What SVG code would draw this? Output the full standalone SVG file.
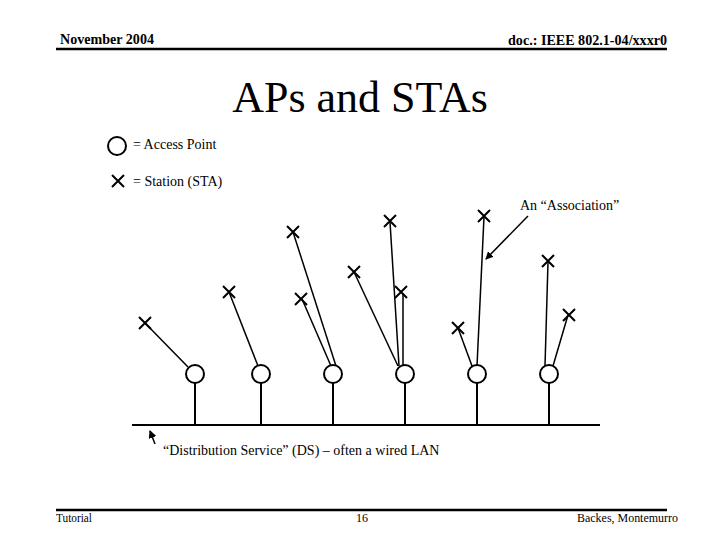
<svg xmlns="http://www.w3.org/2000/svg" width="720" height="540" viewBox="0 0 720 540">
<style>
text{font-family:"Liberation Serif","Times New Roman",serif;fill:#000}
.hdr{font-size:15px;font-weight:bold}
.ftr{font-size:13px}
.lbl{font-size:14px}
.ap{fill:#fff;stroke:#000;stroke-width:2}
.sta{stroke:#000;stroke-width:2;fill:none}
.link{stroke:#000;stroke-width:1.5;fill:none}
.wire{stroke:#000;stroke-width:2;fill:none}
</style>
<defs>
<marker id="ah" markerWidth="8" markerHeight="8" refX="7" refY="4" orient="auto" markerUnits="userSpaceOnUse">
<path d="M0,0 L8,4 L0,8 z" fill="#000"/>
</marker>
<path id="x" d="M-6,-6 L6,6 M6,-6 L-6,6"/>
</defs>
<rect width="720" height="540" fill="#fff"/>
<g id="header">
<text class="hdr" x="60" y="44" textLength="94" lengthAdjust="spacingAndGlyphs">November 2004</text>
<text class="hdr" x="667" y="45" text-anchor="end" textLength="159" lengthAdjust="spacingAndGlyphs">doc.: IEEE 802.1-04/xxxr0</text>
<line x1="56" y1="49" x2="667" y2="49" stroke="#000" stroke-width="2.5"/>
</g>
<text x="360" y="112" font-size="44" text-anchor="middle">APs and STAs</text>
<g id="legend">
<circle class="ap" cx="117" cy="146" r="9"/>
<text class="lbl" x="133" y="149">= Access Point</text>
<use href="#x" class="sta" x="118" y="181"/>
<text class="lbl" x="133" y="186">= Station (STA)</text>
</g>
<g id="connectors">
<line class="wire" x1="132" y1="425" x2="600" y2="425"/>
<line class="wire" x1="195" y1="383" x2="195" y2="425"/>
<line class="wire" x1="261" y1="383" x2="261" y2="425"/>
<line class="wire" x1="333" y1="383" x2="333" y2="425"/>
<line class="wire" x1="405" y1="383" x2="405" y2="425"/>
<line class="wire" x1="477" y1="383" x2="477" y2="425"/>
<line class="wire" x1="549" y1="383" x2="549" y2="425"/>
<line class="link" stroke-width="1" x1="145" y1="323" x2="188" y2="367"/>
<line class="link" x1="229" y1="292" x2="258" y2="366"/>
<line class="link" x1="293" y1="232" x2="336" y2="366"/>
<line class="link" x1="302" y1="299" x2="331" y2="366"/>
<line class="link" x1="354" y1="272" x2="398" y2="366"/>
<line class="link" x1="390" y1="222" x2="399" y2="366"/>
<line class="link" stroke-width="2" x1="403" y1="293" x2="403" y2="366"/>
<line class="link" x1="458" y1="328" x2="472" y2="366"/>
<line class="link" x1="484" y1="217" x2="477" y2="366"/>
<line class="link" x1="548" y1="262" x2="545" y2="366"/>
<line class="link" x1="568" y1="315" x2="553" y2="366"/>
<line class="link" x1="528" y1="216" x2="486" y2="259" marker-end="url(#ah)"/>
<line class="link" stroke-width="2" x1="155" y1="444" x2="150" y2="431" marker-end="url(#ah)"/>
</g>
<g id="aps">
<circle id="ap1" class="ap" cx="195" cy="374" r="9"/>
<circle id="ap2" class="ap" cx="261" cy="374" r="9"/>
<circle id="ap3" class="ap" cx="333" cy="374" r="9"/>
<circle id="ap4" class="ap" cx="405" cy="374" r="9"/>
<circle id="ap5" class="ap" cx="477" cy="374" r="9"/>
<circle id="ap6" class="ap" cx="549" cy="374" r="9"/>
</g>
<g id="stations" class="sta">
<use id="sta1" href="#x" x="145" y="323"/>
<use id="sta2" href="#x" x="229" y="292"/>
<use id="sta3" href="#x" x="293" y="232"/>
<use id="sta4" href="#x" x="301" y="299"/>
<use id="sta5" href="#x" x="354" y="272"/>
<use id="sta6" href="#x" x="390" y="221"/>
<use id="sta7" href="#x" x="401" y="292"/>
<use id="sta8" href="#x" x="458" y="328"/>
<use id="sta9" href="#x" x="484" y="216"/>
<use id="sta10" href="#x" x="548" y="261"/>
<use id="sta11" href="#x" x="569" y="315"/>
</g>
<text class="lbl" x="520" y="210">An “Association”</text>
<text class="lbl" x="163" y="455">“Distribution Service” (DS) – often a wired LAN</text>
<g id="footer">
<line x1="56" y1="510" x2="667" y2="510" stroke="#000" stroke-width="2.5"/>
<text class="ftr" x="56" y="522" textLength="36" lengthAdjust="spacingAndGlyphs">Tutorial</text>
<text class="ftr" x="362" y="522" text-anchor="middle" textLength="12" lengthAdjust="spacingAndGlyphs">16</text>
<text class="ftr" x="678" y="522" text-anchor="end" textLength="101" lengthAdjust="spacingAndGlyphs">Backes, Montemurro</text>
</g>
</svg>
